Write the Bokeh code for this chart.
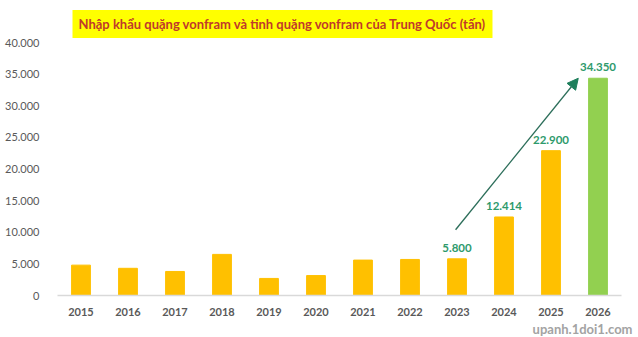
from bokeh.plotting import figure
from bokeh.models import ColumnDataSource, Range1d, Title, Arrow, NormalHead, FixedTicker
from bokeh.core.properties import value
from bokeh.embed import file_html
from bokeh.resources import INLINE

years = ["2015", "2016", "2017", "2018", "2019", "2020", "2021", "2022", "2023", "2024", "2025", "2026"]
imports = [4800, 4300, 3800, 6500, 2700, 3150, 5600, 5700, 5800, 12414, 22900, 34350]
bar_colors = ["#FFC000"] * 11 + ["#92D050"]
labeled = ["2023", "2024", "2025", "2026"]
y_ticks = [0, 5000, 10000, 15000, 20000, 25000, 30000, 35000, 40000]
title_text = "Nhập khẩu quặng vonfram và tinh quặng vonfram của Trung Quốc (tấn)"
watermark = "upanh.1doi1.com"


def fmt(v):
    return f"{v:,}".replace(",", ".")


idx = list(range(len(years)))
src = ColumnDataSource(dict(x=idx, top=imports, color=bar_colors))

p = figure(width=638, height=337, output_backend="svg", toolbar_location=None,
           x_range=Range1d(-0.5, len(years) - 0.5), y_range=Range1d(0, 40000),
           min_border_left=57, min_border_right=17, min_border_top=42, min_border_bottom=41)
p.outline_line_color = None
p.xgrid.visible = False
p.ygrid.visible = False
p.background_fill_color = "white"
p.border_fill_color = "white"

p.vbar(x="x", top="top", width=0.4, color="color", source=src)

# value labels
lab_idx = [years.index(y) for y in labeled]
lab_src = ColumnDataSource(dict(x=lab_idx, y=[imports[i] for i in lab_idx],
                                t=[fmt(imports[i]) for i in lab_idx]))
p.text(x="x", y="y", text="t", source=lab_src, text_align="center", text_baseline="bottom",
       y_offset=-7, text_color="#2E9A6C", text_font=value("Lato"), text_font_style="bold",
       text_font_size="11.5px")

# trend arrow
i0 = years.index("2023")
i1 = years.index("2026")
p.add_layout(Arrow(end=NormalHead(size=11, fill_color="#1E7F5C", line_color="#1E7F5C"),
                   x_start=i0 - 0.03, y_start=imports[i0] + 4600,
                   x_end=i1 - 0.42, y_end=imports[i1],
                   line_color="#2C6E5A", line_width=1.3))

# axes
p.yaxis.ticker = FixedTicker(ticks=y_ticks)
p.yaxis.major_label_overrides = {t: fmt(t) for t in y_ticks}
p.yaxis.axis_line_color = None
p.yaxis.major_tick_line_color = None
p.yaxis.minor_tick_line_color = None
p.yaxis.major_label_standoff = 12
p.yaxis.major_label_text_color = "#595959"
p.yaxis.major_label_text_font = "Lato"
p.yaxis.major_label_text_font_size = "11px"

p.xaxis.ticker = FixedTicker(ticks=idx)
p.xaxis.major_label_overrides = {i: y for i, y in enumerate(years)}
p.xaxis.axis_line_color = "#D9D9D9"
p.xaxis.axis_line_width = 1.5
p.xaxis.major_tick_line_color = None
p.xaxis.minor_tick_line_color = None
p.xaxis.major_label_standoff = 6
p.xaxis.major_label_text_color = "#595959"
p.xaxis.major_label_text_font = "Lato"
p.xaxis.major_label_text_font_style = "bold"
p.xaxis.major_label_text_font_size = "11px"

# title with yellow highlight
p.title.text = title_text
p.title.align = "left"
p.title.offset = 15
p.title.standoff = 9
p.title.text_color = "#C0392B"
p.title.text_font = "Lato"
p.title.text_font_style = "bold"
p.title.text_font_size = "13px"
p.title.background_fill_color = "#FFFF00"
p.title.padding = (6, 6)

# watermark
p.add_layout(Title(text=watermark, align="right", offset=-11, standoff=1,
                   text_color="#A3A3A3", text_font="Lato", text_font_style="bold",
                   text_font_size="13px"), "below")

open("out.html", "w").write(file_html(p, INLINE))
